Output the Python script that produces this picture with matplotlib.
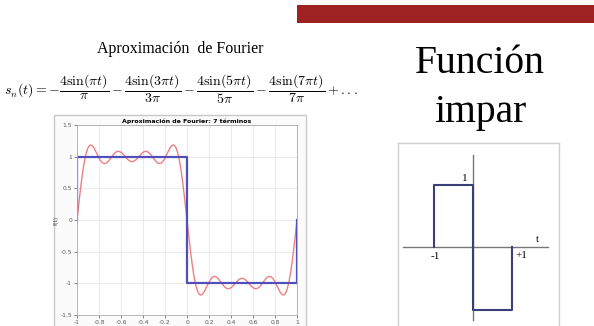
import numpy as np
import matplotlib
matplotlib.use('Agg')
import matplotlib.pyplot as plt
from matplotlib.patches import Rectangle

# Fourier series data (odd harmonics and their coefficients)
harmonics = [1, 3, 5, 7]
coefs = [-4 / (k * np.pi) for k in harmonics]

# square wave (one period)
sq_t = [-1, -1, 0, 0, 1, 1]
sq_y = [0, 1, 1, -1, -1, 0]

xticks = [-1, -0.8, -0.6, -0.4, -0.2, 0, 0.2, 0.4, 0.6, 0.8, 1]
yticks = [-1.5, -1, -0.5, 0, 0.5, 1, 1.5]

W, H = 594, 326
fig = plt.figure(figsize=(W / 100, H / 100), dpi=100)
fig.patch.set_facecolor('white')


def box(x0, y0, x1, y1):
    # pixel box (top-left origin) -> figure fraction rect
    return [x0 / W, 1 - y1 / H, (x1 - x0) / W, (y1 - y0) / H]


serif = ['Liberation Serif', 'DejaVu Serif']

# red bar on top right
fig.patches.append(Rectangle((297 / W, 1 - 23 / H), 1 - 297 / W, 18 / H,
                             transform=fig.transFigure, color='#9e2222', lw=0))

fig.text(180 / W, 1 - 49 / H, 'Aproximación  de Fourier', family=serif,
         fontsize=11.5, ha='center', va='center')

plt.rcParams['mathtext.fontset'] = 'cm'
formula = (r'$s_n(t) = -\dfrac{4\sin(\pi t)}{\pi} - \dfrac{4\sin(3\pi t)}{3\pi}'
           r' - \dfrac{4\sin(5\pi t)}{5\pi} - \dfrac{4\sin(7\pi t)}{7\pi} + ...$')
fig.text(4 / W, 1 - 89 / H, formula, fontsize=10, ha='left', va='center')

fig.text(480 / W, 1 - 73 / H, 'Función', family=serif, fontsize=28.5,
         ha='center', va='baseline')
fig.text(480 / W, 1 - 122 / H, 'impar', family=serif, fontsize=28.5,
         ha='center', va='baseline')

# matlab-like figure frame
fig.patches.append(Rectangle((54 / W, -0.01), (306 - 54) / W, 1.01 - 115 / H,
                             transform=fig.transFigure, facecolor='#fbfbfb',
                             edgecolor='#c8c8c8', lw=1, zorder=-5))

ax = fig.add_axes(box(77, 125, 297, 315))
ax.set_facecolor('white')
t = np.linspace(-1, 1, 1000)
s = np.zeros_like(t)
for k, b in zip(harmonics, coefs):
    s += b * np.sin(k * np.pi * t)
ax.plot(t, s, color='#ef8080', lw=1)
ax.plot(sq_t, sq_y, color='#5050b8', lw=1.6)
ax.set_xlim(-1, 1)
ax.set_ylim(-1.5, 1.5)
ax.set_xticks(xticks)
ax.set_yticks(yticks)
ax.set_xticklabels([f'{v:g}' for v in xticks])
ax.set_yticklabels([f'{v:g}' for v in yticks])
ax.tick_params(labelsize=4.3, length=2, width=0.5, colors='#555555', pad=1.5)
ax.grid(True, color='#e6e6e6', lw=0.6)
ax.set_axisbelow(True)
for sp in ax.spines.values():
    sp.set_color('#aaaaaa')
    sp.set_linewidth(0.6)
ax.set_ylabel('f(t)', fontsize=4.3, labelpad=1, color='#444444')
ax.set_title('Aproximación de Fourier: 7 términos', fontsize=4.5,
             fontweight='bold', pad=1.5)

# odd function sketch
ax2 = fig.add_axes(box(398, 143, 559, 326))
ax2.set_xlim(-75 / 39, 86 / 39)
ax2.set_ylim(-79 / 62.5, 104 / 62.5)
ax2.set_xticks([])
ax2.set_yticks([])
for name, sp in ax2.spines.items():
    sp.set_color('#cfcfcf')
    sp.set_linewidth(1)
ax2.spines['bottom'].set_visible(False)
ax2.plot([-70 / 39, 75 / 39], [0, 0], color='#777777', lw=1)
ax2.plot([0, 0], [-73 / 62.5, 92 / 62.5], color='#777777', lw=1)
ax2.plot(sq_t, sq_y, color='#3b3f78', lw=1.5)
ax2.text(-0.2, 1.02, '1', family=serif, fontsize=8, ha='center', va='bottom')
ax2.text(-0.97, -0.08, '-1', family=serif, fontsize=8, ha='center', va='top')
ax2.text(1.24, -0.06, '+1', family=serif, fontsize=8, ha='center', va='top')
ax2.text(1.65, 0.05, 't', family=serif, fontsize=8, ha='center', va='bottom')

fig.savefig('out.png', dpi=100)
